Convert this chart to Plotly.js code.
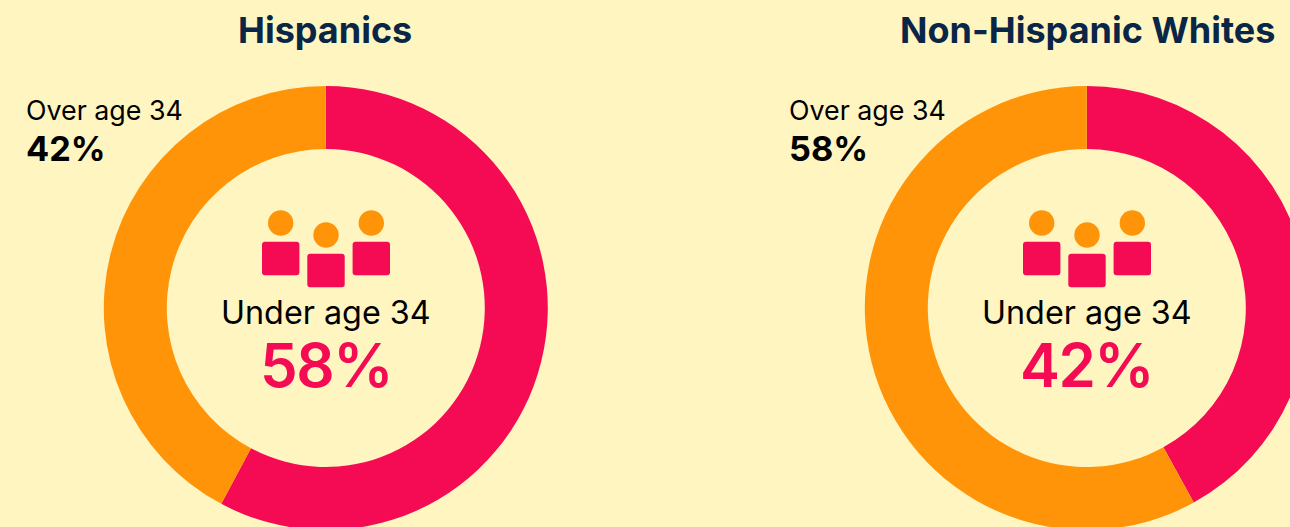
<!DOCTYPE html>
<html><head><meta charset="utf-8">
<script src="https://cdn.plot.ly/plotly-3.0.1.min.js"></script>
<style>html,body{margin:0;padding:0;width:1290px;height:527px;background:#FFF5C0;overflow:hidden}</style>
</head><body><div id="c" style="width:1400px;height:600px"></div>
<script>
const groups=["Hispanics","Non-Hispanic Whites"];
const segments=["Under age 34","Over age 34"];
const hispanicValues=[57.8,42.2];
const whiteValues=[42,58];
const segmentColors=["#F40B53","#FF9408"];
const W=1400,H=600;
const R=222;
const cxs=[325.8,1086.8],cy=308;
const hole=159/222;
function pie(vals,cx,name){
  return {type:"pie",values:vals,labels:segments,name:name,hole:hole,sort:false,direction:"clockwise",rotation:0,
    textinfo:"none",hoverinfo:"label+percent",marker:{colors:segmentColors,line:{width:0}},showlegend:false,
    domain:{x:[(cx-R)/W,(cx+R)/W],y:[(H-cy-R)/H,(H-cy+R)/H]}};
}
const font="Inter, sans-serif";
function ann(x,y,text,size,color,anchor,weight){
  return {xref:"paper",yref:"paper",x:x/W,y:1-y/H,text:text,showarrow:false,xanchor:anchor||"center",yanchor:"middle",
    font:{family:font,size:size,color:color,weight:weight||400},align:anchor||"center",borderpad:0};
}
const anns=[];
const shapes=[];
const px=(x)=>x/W, py=(y)=>1-y/H;
const iconCx=[326,1087];
[hispanicValues,whiteValues].forEach((v,i)=>{
  const cx=iconCx[i];
  anns.push(ann(i==0?324.5:1087,30,groups[i],36,"#0A2647","center",700));
  anns.push(ann(cx-0.5,313,segments[0],32.3,"#000000","center",400));
  anns.push(ann(cx-0.5,364.5,'<span style="letter-spacing:-1.5px">'+Math.round(v[0])+'%</span>',60,segmentColors[0],"center",600));
  const lx=i==0?25:788;
  anns.push(ann(lx,110,segments[1],26.8,"#000000","left",400));
  anns.push(ann(lx,148,Math.round(v[1])+"%",34.3,"#000000","left",700));
  [[-45.3,223],[0,235],[45.3,223]].forEach(d=>{
    const r=12.7;
    shapes.push({type:"circle",xref:"paper",yref:"paper",x0:px(cx+d[0]-r),x1:px(cx+d[0]+r),y0:py(d[1]-r),y1:py(d[1]+r),fillcolor:segmentColors[1],line:{width:0}});
  });
  [[-45.3,241.7],[0,253.7],[45.3,241.7]].forEach(d=>{
    const x0=cx+d[0]-18.7,x1=cx+d[0]+18.7,y0=d[1],y1=d[1]+33.6,c=3;
    const p=(a,b)=>px(a)+","+py(b);
    shapes.push({type:"path",xref:"paper",yref:"paper",fillcolor:segmentColors[0],line:{width:0},
      path:`M${p(x0+c,y0)} L${p(x1-c,y0)} Q${p(x1,y0)} ${p(x1,y0+c)} L${p(x1,y1-c)} Q${p(x1,y1)} ${p(x1-c,y1)} L${p(x0+c,y1)} Q${p(x0,y1)} ${p(x0,y1-c)} L${p(x0,y0+c)} Q${p(x0,y0)} ${p(x0+c,y0)} Z`});
  });
});
Plotly.newPlot("c",[pie(hispanicValues,cxs[0],groups[0]),pie(whiteValues,cxs[1],groups[1])],{
  width:W,height:H,margin:{l:0,r:0,t:0,b:0},paper_bgcolor:"#FFF5C0",plot_bgcolor:"#FFF5C0",annotations:anns,shapes:shapes
},{displayModeBar:false});
</script></body></html>
